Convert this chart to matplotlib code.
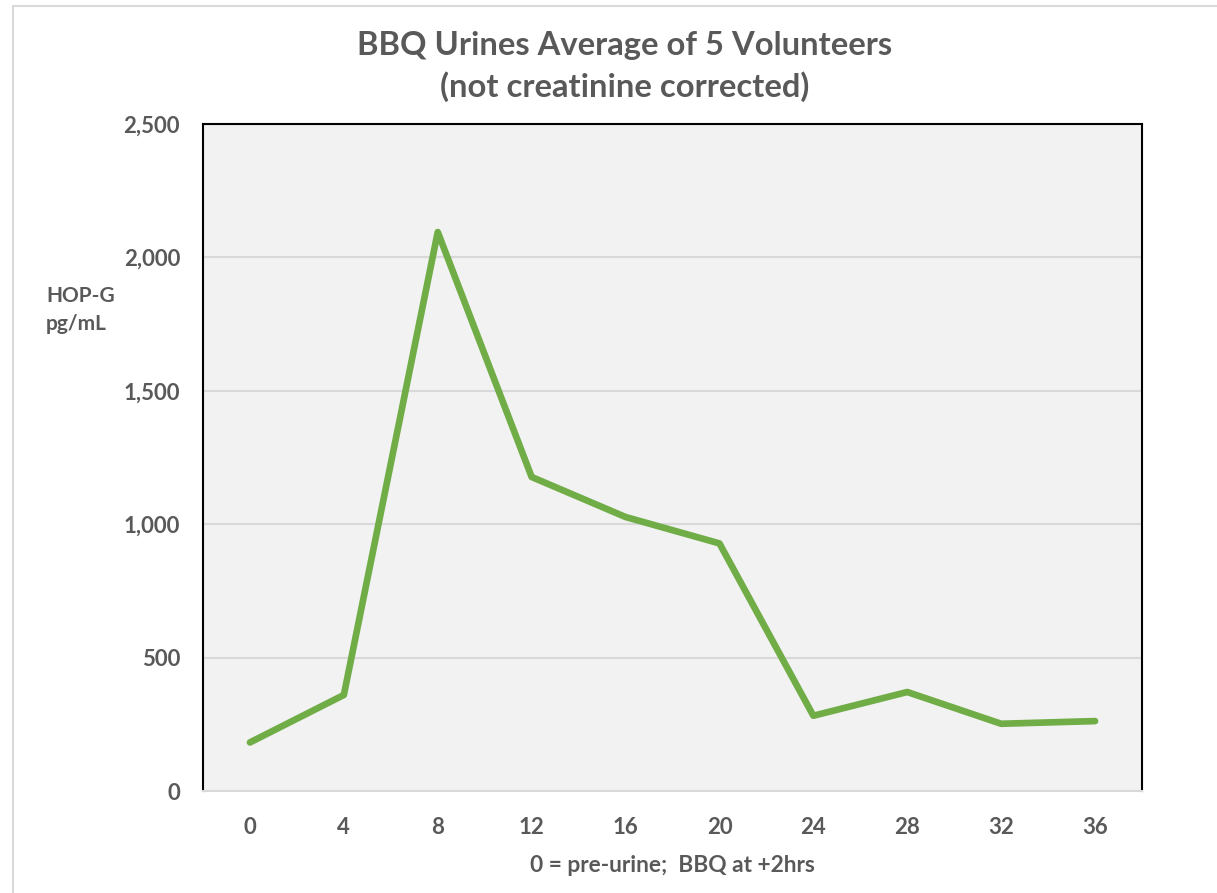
import matplotlib
matplotlib.use("Agg")
import matplotlib.pyplot as plt
from matplotlib.patches import Rectangle
from matplotlib.ticker import FuncFormatter

# Sampling times (hours) and mean HOP-G concentration (pg/mL)
hours = ["0", "4", "8", "12", "16", "20", "24", "28", "32", "36"]
hop_g = [182, 360, 2095, 1177, 1027, 928, 282, 371, 252, 262]
y_ticks = [0, 500, 1000, 1500, 2000, 2500]

title_lines = ["BBQ Urines Average of 5 Volunteers", "(not creatinine corrected)"]
x_label = "0 = pre-urine;  BBQ at +2hrs"
y_label = "HOP-G\npg/mL"

TEXT = "#595959"
GREEN = "#70AD47"
FONT = "Lato"

W, H = 1217, 893
fig = plt.figure(figsize=(W / 100, H / 100), dpi=100)
fig.patch.set_facecolor("white")

# thin outer chart frame
fig.patches.append(Rectangle((13 / W, -0.1), 1.2, (H - 6) / H + 0.1,
                             transform=fig.transFigure, fill=False,
                             edgecolor="#D9D9D9", linewidth=1.5))

left, right, top, bottom = 203, 1142, 124, 791
ax = fig.add_axes([left / W, 1 - bottom / H, (right - left) / W, (bottom - top) / H])
ax.set_facecolor("#F2F2F2")

xs = list(range(len(hours)))
ax.plot(xs, hop_g, color=GREEN, linewidth=4.8, solid_capstyle="round",
        solid_joinstyle="round", zorder=3)

ax.set_xlim(-0.5, len(hours) - 0.5)
ax.set_ylim(y_ticks[0], y_ticks[-1])
ax.set_xticks(xs)
ax.set_xticklabels(hours)
ax.set_yticks(y_ticks)
ax.yaxis.set_major_formatter(FuncFormatter(lambda v, p: f"{int(v):,}"))

ax.grid(axis="y", color="#D9D9D9", linewidth=1.5, zorder=1)
ax.set_axisbelow(True)

for s in ("left", "right", "top"):
    ax.spines[s].set_color("black")
    ax.spines[s].set_linewidth(1.5)
ax.spines["bottom"].set_color("#D9D9D9")
ax.spines["bottom"].set_linewidth(1.5)

ax.tick_params(axis="both", length=0, labelsize=16, labelcolor=TEXT)
ax.tick_params(axis="x", pad=19)
ax.tick_params(axis="y", pad=16.5)
for lab in ax.get_xticklabels() + ax.get_yticklabels():
    lab.set_fontfamily(FONT)
    lab.set_fontweight("bold")

ax.set_xlabel(x_label, fontsize=16.4, color=TEXT, fontfamily=FONT,
              fontweight="bold", labelpad=12)

fig.text(46 / W, 1 - 310 / H, y_label, ha="left", va="center", fontsize=15,
         color=TEXT, fontfamily=FONT, fontweight="bold", linespacing=1.45,
         multialignment="left")

for txt, yc in zip(title_lines, (45, 87)):
    fig.text(625 / W, 1 - yc / H, txt, ha="center", va="center", fontsize=23.6,
             color=TEXT, fontfamily=FONT, fontweight="bold")

fig.savefig("out.png", dpi=100, facecolor="white")
